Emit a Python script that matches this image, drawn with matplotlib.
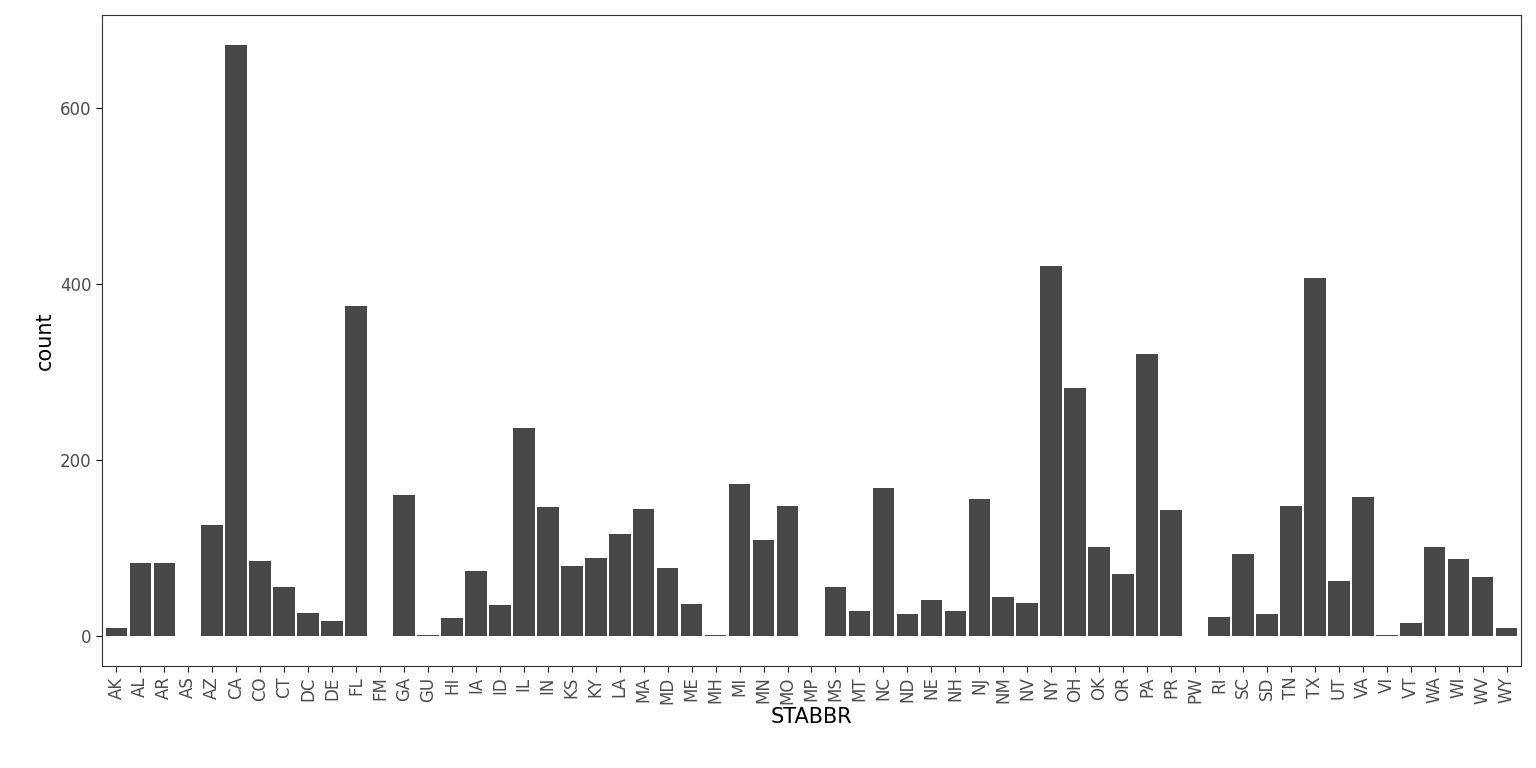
import matplotlib.pyplot as plt

states = ['AK', 'AL', 'AR', 'AS', 'AZ', 'CA', 'CO', 'CT', 'DC', 'DE', 'FL', 'FM', 'GA', 'GU',
          'HI', 'IA', 'ID', 'IL', 'IN', 'KS', 'KY', 'LA', 'MA', 'MD', 'ME', 'MH', 'MI', 'MN',
          'MO', 'MP', 'MS', 'MT', 'NC', 'ND', 'NE', 'NH', 'NJ', 'NM', 'NV', 'NY', 'OH', 'OK',
          'OR', 'PA', 'PR', 'PW', 'RI', 'SC', 'SD', 'TN', 'TX', 'UT', 'VA', 'VI', 'VT', 'WA',
          'WI', 'WV', 'WY']
counts = [10, 83, 83, 1, 126, 671, 86, 56, 27, 18, 375, 1, 161, 2,
          21, 74, 36, 237, 147, 80, 89, 116, 145, 78, 37, 2, 173, 110,
          148, 1, 56, 29, 168, 26, 41, 29, 156, 45, 38, 420, 282, 102,
          71, 320, 143, 1, 22, 93, 25, 148, 407, 63, 158, 2, 15, 101,
          88, 68, 10]

fig = plt.figure(figsize=(15.36, 7.68), dpi=100)
ax = fig.add_axes([102/1536, 1 - 666/768, (1521-102)/1536, (666-15)/768])
x = range(len(states))
ax.bar(x, counts, width=0.9, color='#474747')
ax.set_xlim(-0.6, len(states) - 0.4)
ax.set_ylim(-33.5, 705)
ax.set_xticks(list(x))
ax.set_xticklabels(states, rotation=90, fontsize=12, color='#4d4d4d')
ax.set_yticks([0, 200, 400, 600])
ax.tick_params(axis='y', labelsize=12, labelcolor='#4d4d4d', length=4)
ax.tick_params(axis='x', length=4)
for s in ax.spines.values():
    s.set_color('#333333')
    s.set_linewidth(0.8)
ax.set_xlabel('STABBR', fontsize=15, labelpad=2)
ax.set_ylabel('count', fontsize=15)
fig.savefig('out.png', dpi=100)
